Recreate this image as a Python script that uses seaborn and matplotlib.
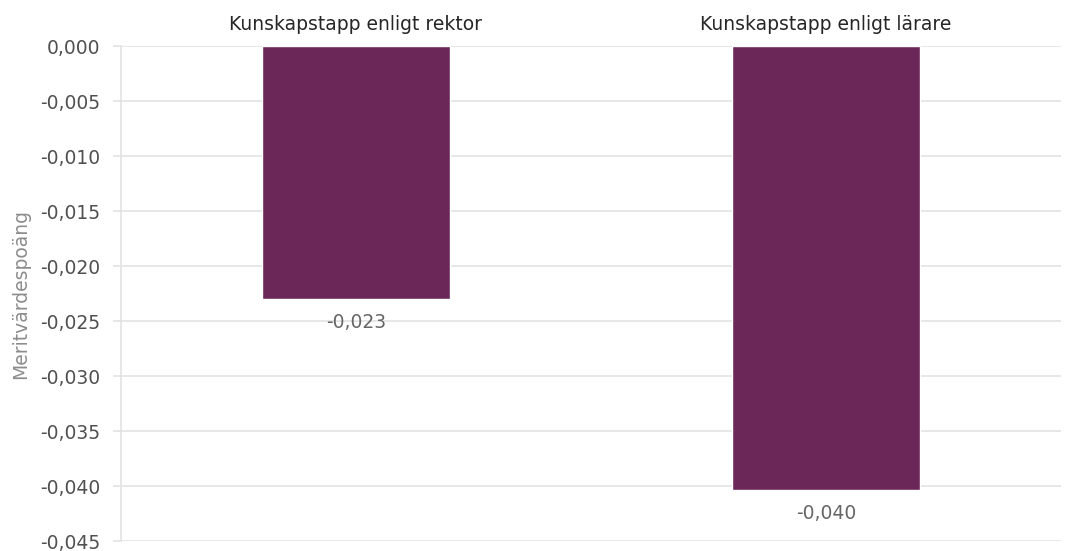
import seaborn as sns
import matplotlib.pyplot as plt
import pandas as pd
from matplotlib.ticker import FuncFormatter

categories = ["Kunskapstapp enligt rektor", "Kunskapstapp enligt lärare"]
values = [-0.023, -0.0404]
value_labels = ["-0,023", "-0,040"]

df = pd.DataFrame({"kategori": categories, "varde": values})

sns.set_style("white")
plt.rcParams["font.family"] = ["DejaVu Sans"]

fig = plt.figure(figsize=(10.69, 5.51), dpi=100)
ax = fig.add_axes([0.113, 0.018, 0.8795, 0.8985])

sns.barplot(data=df, x="kategori", y="varde", order=categories, color="#6A2758",
            saturation=1, width=0.40, ax=ax, zorder=3)

ax.set_ylim(-0.045, 0)
ax.set_yticks([-0.045 + 0.005 * i for i in range(10)])
ax.yaxis.set_major_formatter(FuncFormatter(lambda v, p: f"{v:.3f}".replace(".", ",").replace("-0,000", "0,000")))
ax.grid(axis="y", color="#E3E3E3", linewidth=1.2, zorder=0)

fs = 13.5
for b, lab in zip(ax.patches, value_labels):
    bottom = min(b.get_y(), b.get_y() + b.get_height())
    ax.annotate(lab, (b.get_x() + b.get_width() / 2, bottom), xytext=(0, -10),
                textcoords="offset points", ha="center", va="top",
                fontsize=fs, color="#666666")

ax.xaxis.tick_top()
ax.tick_params(axis="x", length=0, labelsize=fs, labelcolor="#262626", pad=9)
ax.tick_params(axis="y", length=6, width=1.2, color="#E3E3E3", labelsize=fs,
               labelcolor="#505050", pad=9, left=True)
ax.set_xlabel("")
ax.set_ylabel("Meritvärdespoäng", fontsize=fs, color="#8C8C8C", labelpad=7)

for s in ["top", "right", "bottom"]:
    ax.spines[s].set_visible(False)
ax.spines["left"].set_color("#E3E3E3")
ax.spines["left"].set_linewidth(1.2)

fig.savefig("out.png", dpi=100)
